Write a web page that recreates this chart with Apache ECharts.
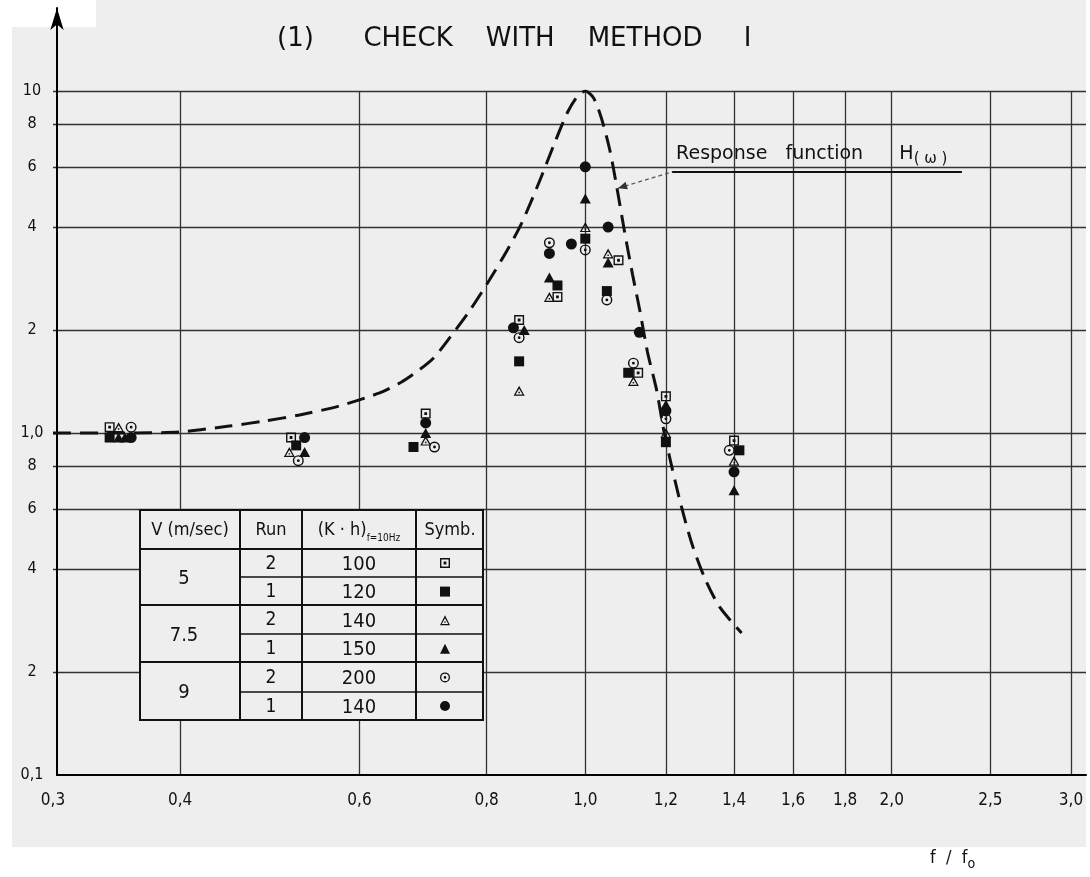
<!DOCTYPE html>
<html><head><meta charset="utf-8">
<script src="https://cdn.jsdelivr.net/npm/echarts@6/dist/echarts.min.js"></script>
<style>html,body{margin:0;padding:0;background:#fff}#c{width:1090px;height:877px}</style>
</head><body><div id="c"></div>
<script>
// ---- tick values and labels ----
const xTicks = [0.3, 0.4, 0.6, 0.8, 1.0, 1.2, 1.4, 1.6, 1.8, 2.0, 2.5, 3.0];
const xTickLabels = ['0,3','0,4','0,6','0,8','1,0','1,2','1,4','1,6','1,8','2,0','2,5','3,0'];
const yTicks = [0.1, 0.2, 0.4, 0.6, 0.8, 1, 2, 4, 6, 8, 10];
const yTickLabels = ['0,1','2','4','6','8','1,0','2','4','6','8','10'];

// ---- response function H(omega) ----
const curve = [
  [0.30,1.0],[0.348,1.0],[0.399,1.007],[0.447,1.048],[0.484,1.084],[0.524,1.129],
  [0.573,1.199],[0.628,1.31],[0.66,1.41],[0.687,1.53],[0.71,1.66],[0.736,1.90],
  [0.770,2.28],[0.805,2.80],[0.837,3.40],[0.866,4.11],[0.901,5.42],[0.933,7.05],
  [0.961,8.68],[0.983,9.67],[1.000,10.0],[1.019,9.54],[1.037,8.34],[1.057,6.72],
  [1.073,5.31],[1.093,3.87],[1.113,2.90],[1.131,2.29],[1.151,1.725],[1.175,1.336],
  [1.194,1.02],[1.210,0.851],[1.238,0.637],[1.272,0.477],[1.310,0.377],[1.355,0.310],[1.424,0.260]
];

// ---- measured points ----
const v5run2 = [[0.341,1.04],[0.514,0.97],[0.697,1.14],[0.861,2.14],[0.939,2.5],[1.078,3.2],[1.127,1.5],[1.2,1.28],[1.4,0.95]];
const v5run1 = [[0.341,0.97],[0.520,0.92],[0.678,0.91],[0.861,1.62],[0.939,2.7],[1.0,3.7],[1.05,2.6],[1.102,1.5],[1.2,0.94],[1.417,0.89]];
const v75run2 = [[0.348,1.04],[0.512,0.88],[0.697,0.95],[0.861,1.33],[0.922,2.5],[1.0,4.0],[1.053,3.35],[1.115,1.42],[1.2,1.0],[1.4,0.83]];
const v75run1 = [[0.348,0.97],[0.353,0.97],[0.530,0.88],[0.697,1.0],[0.871,2.0],[0.922,2.85],[1.0,4.85],[1.053,3.15],[1.2,1.21],[1.4,0.68]];
const v9run2 = [[0.358,1.04],[0.5225,0.83],[0.711,0.91],[0.861,1.9],[0.922,3.6],[1.0,3.43],[1.05,2.45],[1.115,1.6],[1.2,1.1],[1.385,0.89]];
const v9run1 = [[0.358,0.97],[0.530,0.97],[0.697,1.07],[0.850,2.03],[0.922,3.35],[0.969,3.57],[1.0,6.0],[1.053,4.0],[1.13,1.97],[1.2,1.16],[1.4,0.77]];

// ---- legend table ----
const tableHeader = ['V (m/sec)', 'Run', '(K · h)', 'Symb.'];
const tableV = ['5', '7.5', '9'];
const tableRun = ['2','1','2','1','2','1'];
const tableKh = ['100','120','140','150','200','140'];
const seriesNames = ['V5 run2','V5 run1','V7.5 run2','V7.5 run1','V9 run2','V9 run1'];

// annotation anchor (data space)
const annTip = [1.077, 5.2];
const annStart = [1.217, 5.8];
const annEnd = [2.344, 5.8];

const L = v => Math.log10(v);
const FF = "'DejaVu Sans Condensed','DejaVu Sans',sans-serif";
const FW = "'DejaVu Sans',sans-serif";
const BG = '#eeeeee';

const sqDot = 'path://M0 0H100V100H0Z M14 14V86H86V14Z M36 36H64V64H36Z';
const circDot = 'path://M50 0A50 50 0 1 1 50 100A50 50 0 1 1 50 0Z M50 13A37 37 0 1 0 50 87A37 37 0 1 0 50 13Z M50 37A13 13 0 1 1 50 63A13 13 0 1 1 50 37Z';
const triDot = 'path://M50 0L100 100H0Z M50 30L18 88H82Z M43 62H57V76H43Z';

const symbols = [sqDot, 'rect', triDot, 'triangle', circDot, 'circle'];
const symSizes = [10, 10, [11,10], [11,10], 11, 11];
const pointSets = [v5run2, v5run1, v75run2, v75run1, v9run2, v9run1];

const X0 = L(0.3), PXD = 1018;
const GL = 53, GT = 91, GW = 1033, GH = 684;
const xMax = X0 + GW / PXD;

function fmtX(v){ const i = xTicks.findIndex(t => Math.abs(L(t)-v) < 1e-6); return i >= 0 ? xTickLabels[i] : ''; }
function fmtY(v){ const i = yTicks.findIndex(t => Math.abs(L(t)-v) < 1e-6); return i >= 0 ? yTickLabels[i] : ''; }

const chart = echarts.init(document.getElementById('c'), null, {renderer:'canvas', width:1090, height:877});

const scatterSeries = pointSets.map((pts, i) => ({
  name: seriesNames[i], type: 'scatter', xAxisIndex: 0, yAxisIndex: 0,
  symbol: symbols[i], symbolSize: symSizes[i], z: 5, silent: true,
  itemStyle: {color: '#111', opacity: 1},
  data: pts.map(p => [L(p[0]), L(p[1])])
}));

const option = {
  backgroundColor: BG,
  animation: false,
  title: {
    text: '(1)      CHECK    WITH    METHOD     I',
    left: 272, top: 21,
    textStyle: {fontFamily: FW, fontSize: 26, fontWeight: 'normal', color: '#111'}
  },
  legend: {
    data: seriesNames, orient: 'vertical', left: 440, top: 558, padding: 0, z: 60,
    itemWidth: 10, itemHeight: 10, itemGap: 18.6, selectedMode: false,
    formatter: () => '', textStyle: {fontSize: 8, lineHeight: 8}
  },
  grid: [
    {left: GL, top: GT, width: GW, height: GH},
    {left: 57, top: 8, width: 1029, height: 767}
  ],
  xAxis: [
    {type: 'value', gridIndex: 0, min: X0, max: xMax,
     axisLine: {show: false, onZero: false},
     axisTick: {show: false, customValues: xTicks.filter(v => v > 0.3).map(L)},
     splitLine: {show: true, lineStyle: {color: '#333', width: 1.3}},
     axisLabel: {customValues: xTicks.map(L), formatter: fmtX, margin: 17, showMinLabel: true, showMaxLabel: true,
                 fontFamily: FF, fontSize: 17, color: '#111'}},
    {type: 'value', gridIndex: 1, min: 0, max: 1,
     axisLine: {show: true, onZero: false, lineStyle: {color: '#000', width: 2}},
     axisTick: {show: false}, axisLabel: {show: false}, splitLine: {show: false}}
  ],
  yAxis: [
    {type: 'value', gridIndex: 0, min: -1, max: 1,
     axisLine: {show: false, onZero: false},
     axisTick: {show: false, customValues: yTicks.filter(v => v > 0.1).map(L)},
     splitLine: {show: true, lineStyle: {color: '#333', width: 1.3}},
     axisLabel: {customValues: yTicks.map(L), formatter: fmtY, margin: 21, align: 'center', showMinLabel: true, showMaxLabel: true,
                 fontFamily: FF, fontSize: 16, color: '#111'}},
    {type: 'value', gridIndex: 1, min: 0, max: 1,
     axisLine: {show: true, onZero: false, symbol: ['none', 'arrow'], symbolSize: [10, 22], lineStyle: {color: '#000', width: 2}},
     axisTick: {show: false}, axisLabel: {show: false}, splitLine: {show: false}}
  ],
  series: [
    {name: 'H', type: 'line', xAxisIndex: 0, yAxisIndex: 0, showSymbol: false, smooth: 0.25, silent: true, z: 3,
     lineStyle: {type: [18, 9], width: 3, color: '#111'},
     data: curve.map(p => [L(p[0]), L(p[1])])},
    ...scatterSeries
  ]
};
chart.setOption(option);

// ---- graphics: background patches, table, annotation ----
const px = p => chart.convertToPixel({gridIndex: 0}, [L(p[0]), L(p[1])]);
const tip = px(annTip), st = px(annStart), en = px(annEnd);
const ang = Math.atan2(st[1]-tip[1], st[0]-tip[0]);
const ah = 9, aw = 4;
const arrowPts = [
  tip,
  [tip[0] + ah*Math.cos(ang) - aw*Math.sin(ang), tip[1] + ah*Math.sin(ang) + aw*Math.cos(ang)],
  [tip[0] + ah*Math.cos(ang) + aw*Math.sin(ang), tip[1] + ah*Math.sin(ang) - aw*Math.cos(ang)]
];

const TX = [140, 240, 302, 416, 483];
const TY = [510, 549, 577, 605, 634, 662, 692, 720];
const rowC = [563, 591, 619.5, 648, 677, 706];
const groupC = [577, 633.5, 691];
const lineSt = {stroke: '#111', lineWidth: 2};
const tableEls = [];
tableEls.push({type: 'rect', shape: {x: TX[0], y: TY[0], width: TX[4]-TX[0], height: TY[7]-TY[0]}, style: {fill: BG, stroke: '#111', lineWidth: 2}, z: 20});
[1,2,3].forEach(i => tableEls.push({type: 'line', shape: {x1: TX[i], y1: TY[0], x2: TX[i], y2: TY[7]}, style: lineSt, z: 21}));
[1,3,5].forEach(j => tableEls.push({type: 'line', shape: {x1: TX[0], y1: TY[j], x2: TX[4], y2: TY[j]}, style: lineSt, z: 21}));
[2,4,6].forEach(j => tableEls.push({type: 'line', shape: {x1: TX[1], y1: TY[j], x2: TX[4], y2: TY[j]}, style: {stroke: '#111', lineWidth: 1.6}, z: 21}));
const tStyle = (t, x, y, fs) => ({type: 'text', x: x, y: y, z: 22, style: {text: t, fill: '#111', font: (fs||17) + 'px ' + FF, textAlign: 'center', textVerticalAlign: 'middle'}});
tableEls.push(tStyle(tableHeader[0], 190, 530, 18));
tableEls.push(tStyle(tableHeader[1], 271, 530, 18));
tableEls.push({type: 'text', x: 359, y: 530, z: 22, style: {
  text: '{a|' + tableHeader[2] + '}{s|f=10Hz}', textAlign: 'center', textVerticalAlign: 'middle',
  rich: {a: {fontFamily: FF, fontSize: 18, lineHeight: 26, verticalAlign: 'middle', fill: '#111'},
         s: {fontFamily: FF, fontSize: 10, lineHeight: 26, verticalAlign: 'bottom', fill: '#111'}}}});
tableEls.push(tStyle(tableHeader[3], 450, 530, 18));
tableV.forEach((t, i) => tableEls.push(tStyle(t, 184, groupC[i] + 2, 20)));
tableRun.forEach((t, i) => tableEls.push(tStyle(t, 271, rowC[i] + 1, 19)));
tableKh.forEach((t, i) => tableEls.push(tStyle(t, 359, rowC[i] + 2, 20)));

chart.setOption({
  graphic: [
    {type: 'rect', shape: {x: 0, y: 0, width: 12, height: 877}, style: {fill: '#fff'}, z: -5},
    {type: 'rect', shape: {x: 0, y: 847, width: 1090, height: 30}, style: {fill: '#fff'}, z: -5},
    {type: 'rect', shape: {x: 12, y: 0, width: 84, height: 27}, style: {fill: '#fff'}, z: -5},
    {type: 'rect', shape: {x: 1086, y: 0, width: 4, height: 877}, style: {fill: '#fff'}, z: -5},
    {type: 'text', x: 930, y: 858, style: {
      text: '{a|f  /  f}{s|o}', textVerticalAlign: 'middle',
      rich: {a: {fontFamily: FF, fontSize: 18, lineHeight: 24, verticalAlign: 'middle', fill: '#111'},
             s: {fontFamily: FF, fontSize: 14, lineHeight: 26, verticalAlign: 'bottom', fill: '#111'}}}},
    ...tableEls,
    {type: 'line', shape: {x1: tip[0], y1: tip[1], x2: st[0], y2: st[1]}, style: {stroke: '#555', lineWidth: 1.2, lineDash: [4, 3]}, z: 10},
    {type: 'polygon', shape: {points: arrowPts}, style: {fill: '#333'}, z: 10},
    {type: 'line', shape: {x1: st[0], y1: st[1], x2: en[0], y2: en[1]}, style: {stroke: '#111', lineWidth: 2}, z: 10},
    {type: 'text', x: st[0] + 4, y: st[1] - 5, z: 10, style: {
      text: '{a|Response   function      H}{s|( ω )}', textVerticalAlign: 'bottom',
      rich: {a: {fontFamily: FW, fontSize: 19, lineHeight: 24, verticalAlign: 'middle', fill: '#111'},
             s: {fontFamily: FW, fontSize: 15, lineHeight: 26, verticalAlign: 'bottom', fill: '#111'}}}}
  ]
});
</script></body></html>
